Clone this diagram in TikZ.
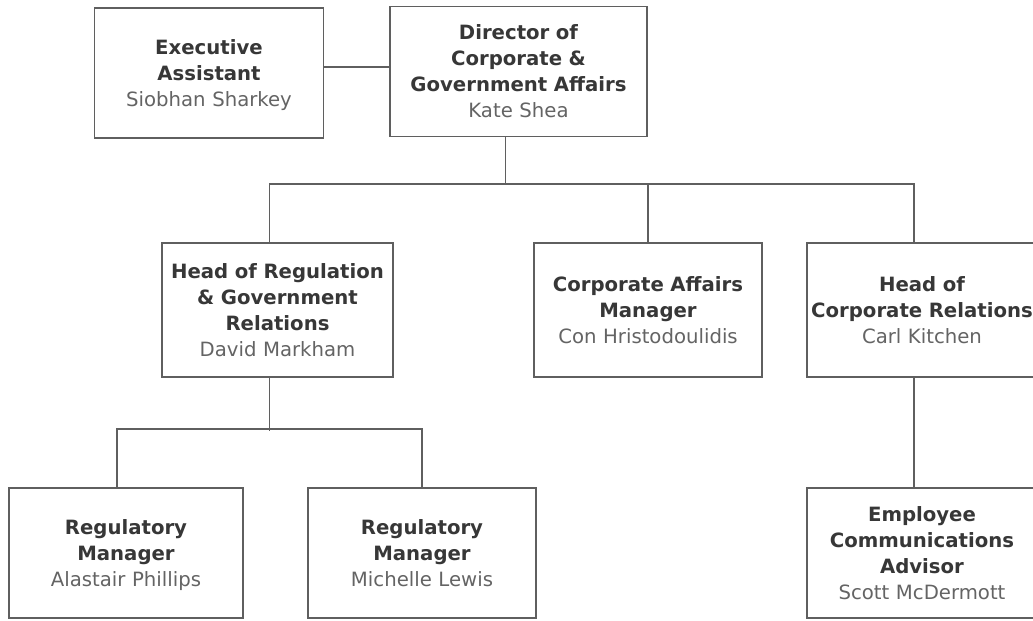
\documentclass[tikz,border=0pt]{standalone}
\usepackage{fontspec}
\setmainfont{DejaVu Sans}
\usetikzlibrary{calc}
\definecolor{boxline}{RGB}{95,95,95}
\definecolor{titletext}{RGB}{55,55,55}
\definecolor{nametext}{RGB}{100,100,100}
\newcommand{\role}[2]{{\bfseries\color{titletext}\rule{0pt}{16pt}#1\par}{\color{nametext}#2\strut}}
\begin{document}
\begin{tikzpicture}[x=0.025cm,y=-0.025cm,
    post/.style={draw=boxline,line width=1.1pt,align=center,inner xsep=0pt,text width=#1,
        minimum height=3.25cm,font=\fontsize{14}{18.5}\selectfont},
    tall/.style={minimum height=3.35cm},
    link/.style={draw=boxline,line width=1.1pt}]
    \useasboundingbox (0,0) rectangle (1033,620);
    \fill[white] (0,0) rectangle (1033,620);
    % top row
    \node[post=5.725cm] (exec) at (209,73) {\role{Executive\\Assistant}{Siobhan Sharkey}};
    \node[post=6.425cm] (dir) at (518.5,71.5) {\role{Director of\\Corporate \&\\Government Affairs}{Kate Shea}};
    % second row
    \node[post=5.775cm,tall] (hreg) at (277.5,310) {\role{Head of Regulation\\\& Government\\Relations}{David Markham}};
    \node[post=5.7cm,tall] (caff) at (648,310) {\role{Corporate Affairs\\Manager}{Con Hristodoulidis}};
    \node[post=5.75cm,tall] (hcr) at (922,310) {\role{Head of\\Corporate Relations}{Carl Kitchen}};
    % third row
    \node[post=5.85cm] (alas) at (126,553) {\role{Regulatory\\Manager}{Alastair Phillips}};
    \node[post=5.7cm] (mich) at (422,553) {\role{Regulatory\\Manager}{Michelle Lewis}};
    \node[post=5.75cm] (emp) at (922,553) {\role{Employee\\Communications\\Advisor}{Scott McDermott}};

    \draw[link] ($(exec.east)+(0,-6)$) -- ($(dir.west)+(0,-4.5)$);
    \draw[link] ($(dir.south)+(-13,0)$) -- ++(0,48);
    \draw[link] ($(hreg.north)+(-8,0)$) |- ($(hcr.north)+(-8,-58)$) -- ($(hcr.north)+(-8,0)$);
    \draw[link] (caff.north) -- ++(0,-58);
    \draw[link] ($(hcr.south)+(-8,0)$) -- ($(emp.north)+(-8,0)$);
    \draw[link] ($(hreg.south)+(-8,0)$) -- ++(0,53);
    \draw[link] ($(alas.north)+(-9,0)$) |- ($(mich.north)+(0,-58)$) -- (mich.north);
\end{tikzpicture}
\end{document}
